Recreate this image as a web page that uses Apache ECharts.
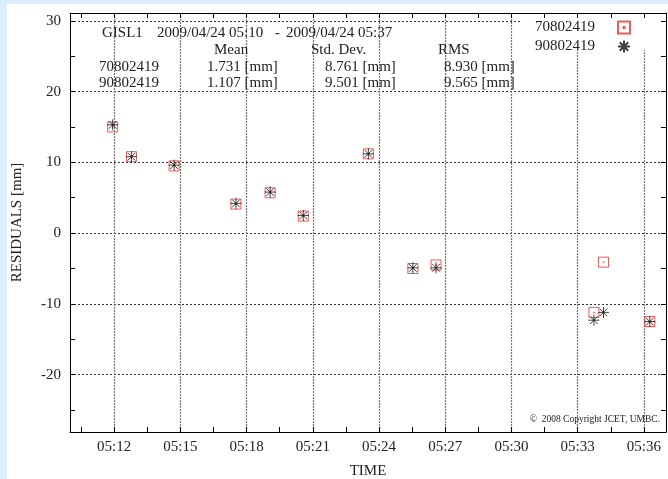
<!DOCTYPE html>
<html>
<head>
<meta charset="utf-8">
<script src="https://cdn.jsdelivr.net/npm/echarts@6/dist/echarts.min.js"></script>
<style>
    html, body { margin: 0; padding: 0; background: #dcedfb; }
    #chart { position: absolute; left: 7px; top: 4px; width: 661px; height: 475px; background: #fff; }
</style>
</head>
<body>
<div id="chart"></div>
<script>
    // observation times (2009/04/24) and residuals [mm]
    var times = ['05:11:56', '05:12:47', '05:14:43', '05:17:31', '05:19:04', '05:20:34',
                 '05:23:31', '05:25:32', '05:26:35', '05:33:44', '05:34:10', '05:36:16'];
    var res70802419 = [15.0, 10.8, 9.5, 4.1, 5.7, 2.4, 11.2, -5.0, -4.5, -11.2, -4.1, -12.5];
    var res90802419 = [15.3, 10.8, 9.6, 4.2, 5.8, 2.5, 11.2, -4.9, -4.9, -12.3, -11.2, -12.5];

    // axes (x in minutes after 05:00)
    var xMin = 10, xMax = 37;
    var xLabelMinutes = [12, 15, 18, 21, 24, 27, 30, 33, 36];
    var xTickMinutes = [10.5, 12, 13.5, 15, 16.5, 18, 19.5, 21, 22.5, 24, 25.5, 27, 28.5, 30, 31.5, 33, 34.5, 36];
    var yMin = -28.1, yMax = 31.1;
    var yLabels = [-20, -10, 0, 10, 20, 30];
    var yTicks = [-25, -20, -15, -10, -5, 0, 5, 10, 15, 20, 25, 30];

    // statistics table
    var statNames = ['70802419', '90802419'];
    var statMean = ['1.731 [mm]', '1.107 [mm]'];
    var statStd = ['8.761 [mm]', '9.501 [mm]'];
    var statRms = ['8.930 [mm]', '9.565 [mm]'];

    var FONT = '"Liberation Serif", "DejaVu Serif", serif';
    var TXT = '#222';

    function toMin(t) {
        var p = t.split(':');
        return (+p[0] - 5) * 60 + (+p[1]) + (+p[2]) / 60;
    }
    function pts(vals) {
        return times.map(function (t, i) { return [toMin(t), vals[i]]; });
    }

    var squarePath = 'path://M0,0H10V10H0Z M4.6,4.6H5.4V5.4H4.6Z';
    var starPath = 'path://M5,0V10M0,5H10M1.5,1.5L8.5,8.5M8.5,1.5L1.5,8.5';

    // header texts, page coords minus the chart div offset (7, 4)
    function txt(s, x, y, size, align) {
        return {
            type: 'text', x: x - 7, y: y - 4, z: 10,
            style: { text: s, font: (size || 15) + 'px ' + FONT, fill: TXT,
                     verticalAlign: 'middle', align: align || 'left' }
        };
    }
    var graphics = [
        // white box behind the legend (hides grid lines there)
        { type: 'rect', z: 1, shape: { x: 520 - 7, y: 14 - 4, width: 145, height: 36 },
          style: { fill: '#fff' } },
        txt('GISL1', 102, 33.5),
        txt('2009/04/24 05:10', 157, 33.5),
        txt('-', 275, 33.5),
        txt('2009/04/24 05:37', 286, 33.5),
        txt('Mean', 214, 50.5),
        txt('Std. Dev.', 311, 50.5),
        txt('RMS', 438, 50.5),
        txt('\u00a9  2008 Copyright JCET, UMBC.', 660, 419, 9.5, 'right')
    ];
    [67.5, 83.5].forEach(function (y, i) {
        graphics.push(txt(statNames[i], 99, y));
        graphics.push(txt(statMean[i], 207, y));
        graphics.push(txt(statStd[i], 325, y));
        graphics.push(txt(statRms[i], 444, y));
    });

    var axisLine = { show: true, onZero: false, lineStyle: { color: '#000', width: 1 } };

    var chart = echarts.init(document.getElementById('chart'));
    chart.setOption({
        animation: false,
        backgroundColor: '#fff',
        grid: { left: 63, right: 2, top: 9, bottom: 47, outerBoundsMode: 'none' },
        legend: {
            orient: 'vertical', right: 3, top: 10, z: 6,
            align: 'right',
            padding: [6, 34, 3, 17],
            itemGap: 4, itemWidth: 12, itemHeight: 12,
            textStyle: { fontFamily: FONT, fontSize: 15, color: TXT, padding: [0, 18, 0, 0] },
            data: ['70802419', '90802419']
        },
        graphic: graphics,
        xAxis: [
            {
                type: 'value', min: xMin, max: xMax, position: 'bottom', z: 5,
                axisLine: axisLine,
                axisTick: { inside: true, length: 5, customValues: xTickMinutes, lineStyle: { color: '#000' } },
                axisLabel: {
                    customValues: xLabelMinutes, margin: 8,
                    fontFamily: FONT, fontSize: 15, color: TXT,
                    formatter: function (v) { return '05:' + (v < 10 ? '0' : '') + Math.round(v); }
                },
                splitLine: { show: false },
                name: 'TIME', nameLocation: 'middle', nameGap: 32,
                nameTextStyle: { fontFamily: FONT, fontSize: 15, color: TXT }
            },
            {
                type: 'value', min: xMin, max: xMax, position: 'top', z: 5,
                axisLine: axisLine,
                axisTick: { inside: true, length: 5, customValues: xTickMinutes, lineStyle: { color: '#000' } },
                axisLabel: { show: false },
                splitLine: { show: false }
            },
            {
                type: 'value', min: xMin, max: xMax, position: 'bottom', z: 0,
                axisLine: { show: false, onZero: false },
                axisTick: { show: false, customValues: xLabelMinutes },
                axisLabel: { show: false },
                splitLine: { show: true, lineStyle: { color: '#777', type: [2, 1], width: 1.2 } }
            }
        ],
        yAxis: [
            {
                type: 'value', min: yMin, max: yMax, position: 'left', z: 5,
                axisLine: axisLine,
                axisTick: { inside: true, length: 5, customValues: yTicks, lineStyle: { color: '#000' } },
                axisLabel: { customValues: yLabels, margin: 9, fontFamily: FONT, fontSize: 15, color: TXT },
                splitLine: { show: false },
                name: 'RESIDUALS [mm]', nameLocation: 'middle', nameGap: 45,
                nameTextStyle: { fontFamily: FONT, fontSize: 15, color: TXT }
            },
            {
                type: 'value', min: yMin, max: yMax, position: 'right', z: 5,
                axisLine: axisLine,
                axisTick: { inside: true, length: 5, customValues: yTicks, lineStyle: { color: '#000' } },
                axisLabel: { show: false },
                splitLine: { show: false }
            },
            {
                type: 'value', min: yMin, max: yMax, position: 'left', z: 0,
                axisLine: { show: false, onZero: false },
                axisTick: { show: false, customValues: yLabels },
                axisLabel: { show: false },
                splitLine: { show: true, lineStyle: { color: '#333', type: [2, 2], width: 1 } }
            }
        ],
        series: [
            {
                name: '70802419', type: 'scatter', xAxisIndex: 0, yAxisIndex: 0,
                symbol: squarePath, symbolSize: 10,
                itemStyle: { color: 'transparent', borderColor: '#e8302f', borderWidth: 1 },
                data: pts(res70802419)
            },
            {
                name: '90802419', type: 'scatter', xAxisIndex: 0, yAxisIndex: 0,
                symbol: starPath, symbolSize: 11,
                itemStyle: { color: 'transparent', borderColor: '#111', borderWidth: 1 },
                data: pts(res90802419)
            }
        ]
    });
</script>
</body>
</html>
